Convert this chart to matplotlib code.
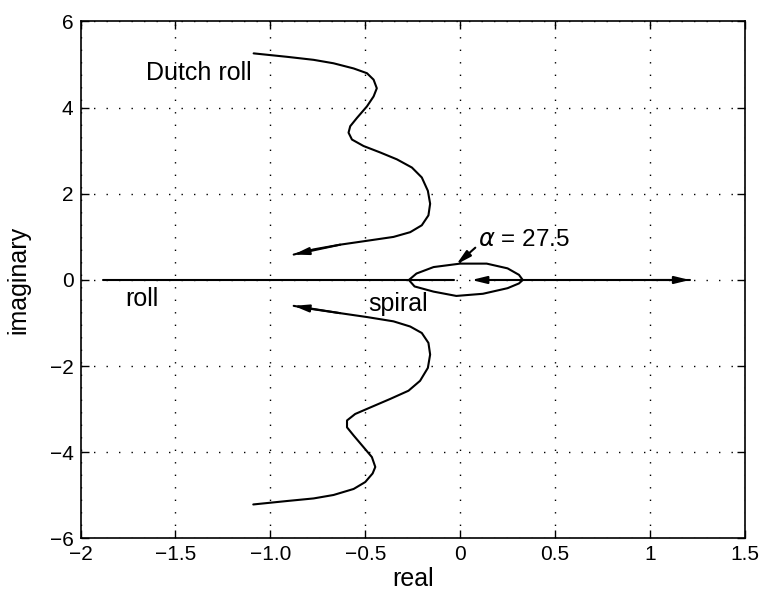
import numpy as np
import matplotlib.pyplot as plt

plt.rcParams['font.family'] = ['Liberation Sans', 'DejaVu Sans']

# Dutch roll branch, upper half (real, imag)
dutch_up_re = [-1.088, -0.912, -0.772, -0.667, -0.561, -0.491, -0.456, -0.439, -0.456, -0.491,
               -0.544, -0.579, -0.588, -0.570, -0.509, -0.421, -0.333, -0.254, -0.202, -0.170,
               -0.158, -0.167, -0.202, -0.263, -0.351, -0.491, -0.632, -0.772, -0.877]
dutch_up_im = [5.26, 5.18, 5.11, 5.03, 4.91, 4.80, 4.65, 4.45, 4.26, 4.03,
               3.76, 3.57, 3.42, 3.26, 3.11, 2.96, 2.80, 2.61, 2.38, 2.07,
               1.77, 1.50, 1.27, 1.11, 1.00, 0.91, 0.82, 0.71, 0.59]
# Dutch roll branch, lower half
dutch_lo_re = [-1.09, -0.912, -0.772, -0.667, -0.561, -0.500, -0.461, -0.447, -0.465, -0.509,
               -0.561, -0.596, -0.596, -0.553, -0.474, -0.368, -0.272, -0.211, -0.170, -0.158,
               -0.167, -0.202, -0.263, -0.351, -0.491, -0.632, -0.772, -0.877]
dutch_lo_im = [-5.21, -5.13, -5.07, -4.99, -4.85, -4.69, -4.49, -4.34, -4.11, -3.88,
               -3.61, -3.42, -3.26, -3.11, -2.96, -2.76, -2.57, -2.34, -2.04, -1.73,
               -1.46, -1.23, -1.08, -0.96, -0.86, -0.77, -0.68, -0.60]
# spiral / roll loop around the origin
loop_re = [-0.27, -0.23, -0.14, 0.0, 0.14, 0.25, 0.31, 0.33, 0.31, 0.25, 0.12, -0.02, -0.14, -0.24, -0.27]
loop_im = [0.0, 0.15, 0.30, 0.38, 0.38, 0.27, 0.12, 0.0, -0.08, -0.19, -0.32, -0.37, -0.27, -0.15, 0.0]
# roll branch on the real axis
roll_re = [-1.88, -0.03]
right_re = [0.33, 1.21]

fig = plt.figure(figsize=(7.6, 5.97), dpi=100)
ax = fig.add_axes([0.106, 0.098, 0.874, 0.866])

lw = 1.5
style = dict(color='black', lw=lw, solid_joinstyle='round', solid_capstyle='round')
ax.plot(dutch_up_re, dutch_up_im, **style)
ax.plot(dutch_lo_re, dutch_lo_im, **style)
ax.plot(loop_re, loop_im, **style)
ax.plot(roll_re, [0, 0], **style)
ax.plot(right_re, [0, 0], **style)

arrow = dict(arrowstyle='-|>,head_length=0.9,head_width=0.22', color='black', lw=lw,
             shrinkA=0, shrinkB=0)
# arrows along the branches
ax.annotate('', xy=(dutch_up_re[-1], dutch_up_im[-1]),
            xytext=(dutch_up_re[-3], dutch_up_im[-3]), arrowprops=arrow)
ax.annotate('', xy=(dutch_lo_re[-1], dutch_lo_im[-1]),
            xytext=(dutch_lo_re[-3], dutch_lo_im[-3]), arrowprops=arrow)
ax.annotate('', xy=(right_re[1], 0), xytext=(right_re[1] - 0.2, 0), arrowprops=arrow)
ax.annotate('', xy=(0.06, 0), xytext=(0.33, 0), arrowprops=arrow)
ax.annotate('', xy=(-0.02, 0.36), xytext=(0.08, 0.75), arrowprops=arrow)

ax.text(0.095, 0.80, r'$\alpha$ = 27.5', fontsize=17.5, va='baseline')
ax.text(-1.654, 4.65, 'Dutch roll', fontsize=18, va='baseline')
ax.text(-1.763, -0.61, 'roll', fontsize=18, va='baseline')
ax.text(-0.484, -0.73, 'spiral', fontsize=18, va='baseline')

ax.set_xlim(-2, 1.5)
ax.set_ylim(-6, 6)
ax.set_xticks([-2, -1.5, -1.0, -0.5, 0, 0.5, 1, 1.5])
ax.set_xticklabels(['\u22122', '\u22121.5', '\u22121.0', '\u22120.5', '0', '0.5', '1', '1.5'])
ax.set_yticks([-6, -4, -2, 0, 2, 4, 6])
ax.set_yticklabels(['\u22126', '\u22124', '\u22122', '0', '2', '4', '6'])
ax.tick_params(direction='in', top=True, right=True, labelsize=15, length=6, width=1, pad=5)
ax.grid(True, color='black', linestyle=(0, (1, 8)), linewidth=1.0)
for s in ax.spines.values():
    s.set_linewidth(1.2)
ax.set_xlabel('real', fontsize=18, labelpad=2)
ax.set_ylabel('imaginary', fontsize=18, labelpad=14)

fig.savefig('out.png', dpi=100)
